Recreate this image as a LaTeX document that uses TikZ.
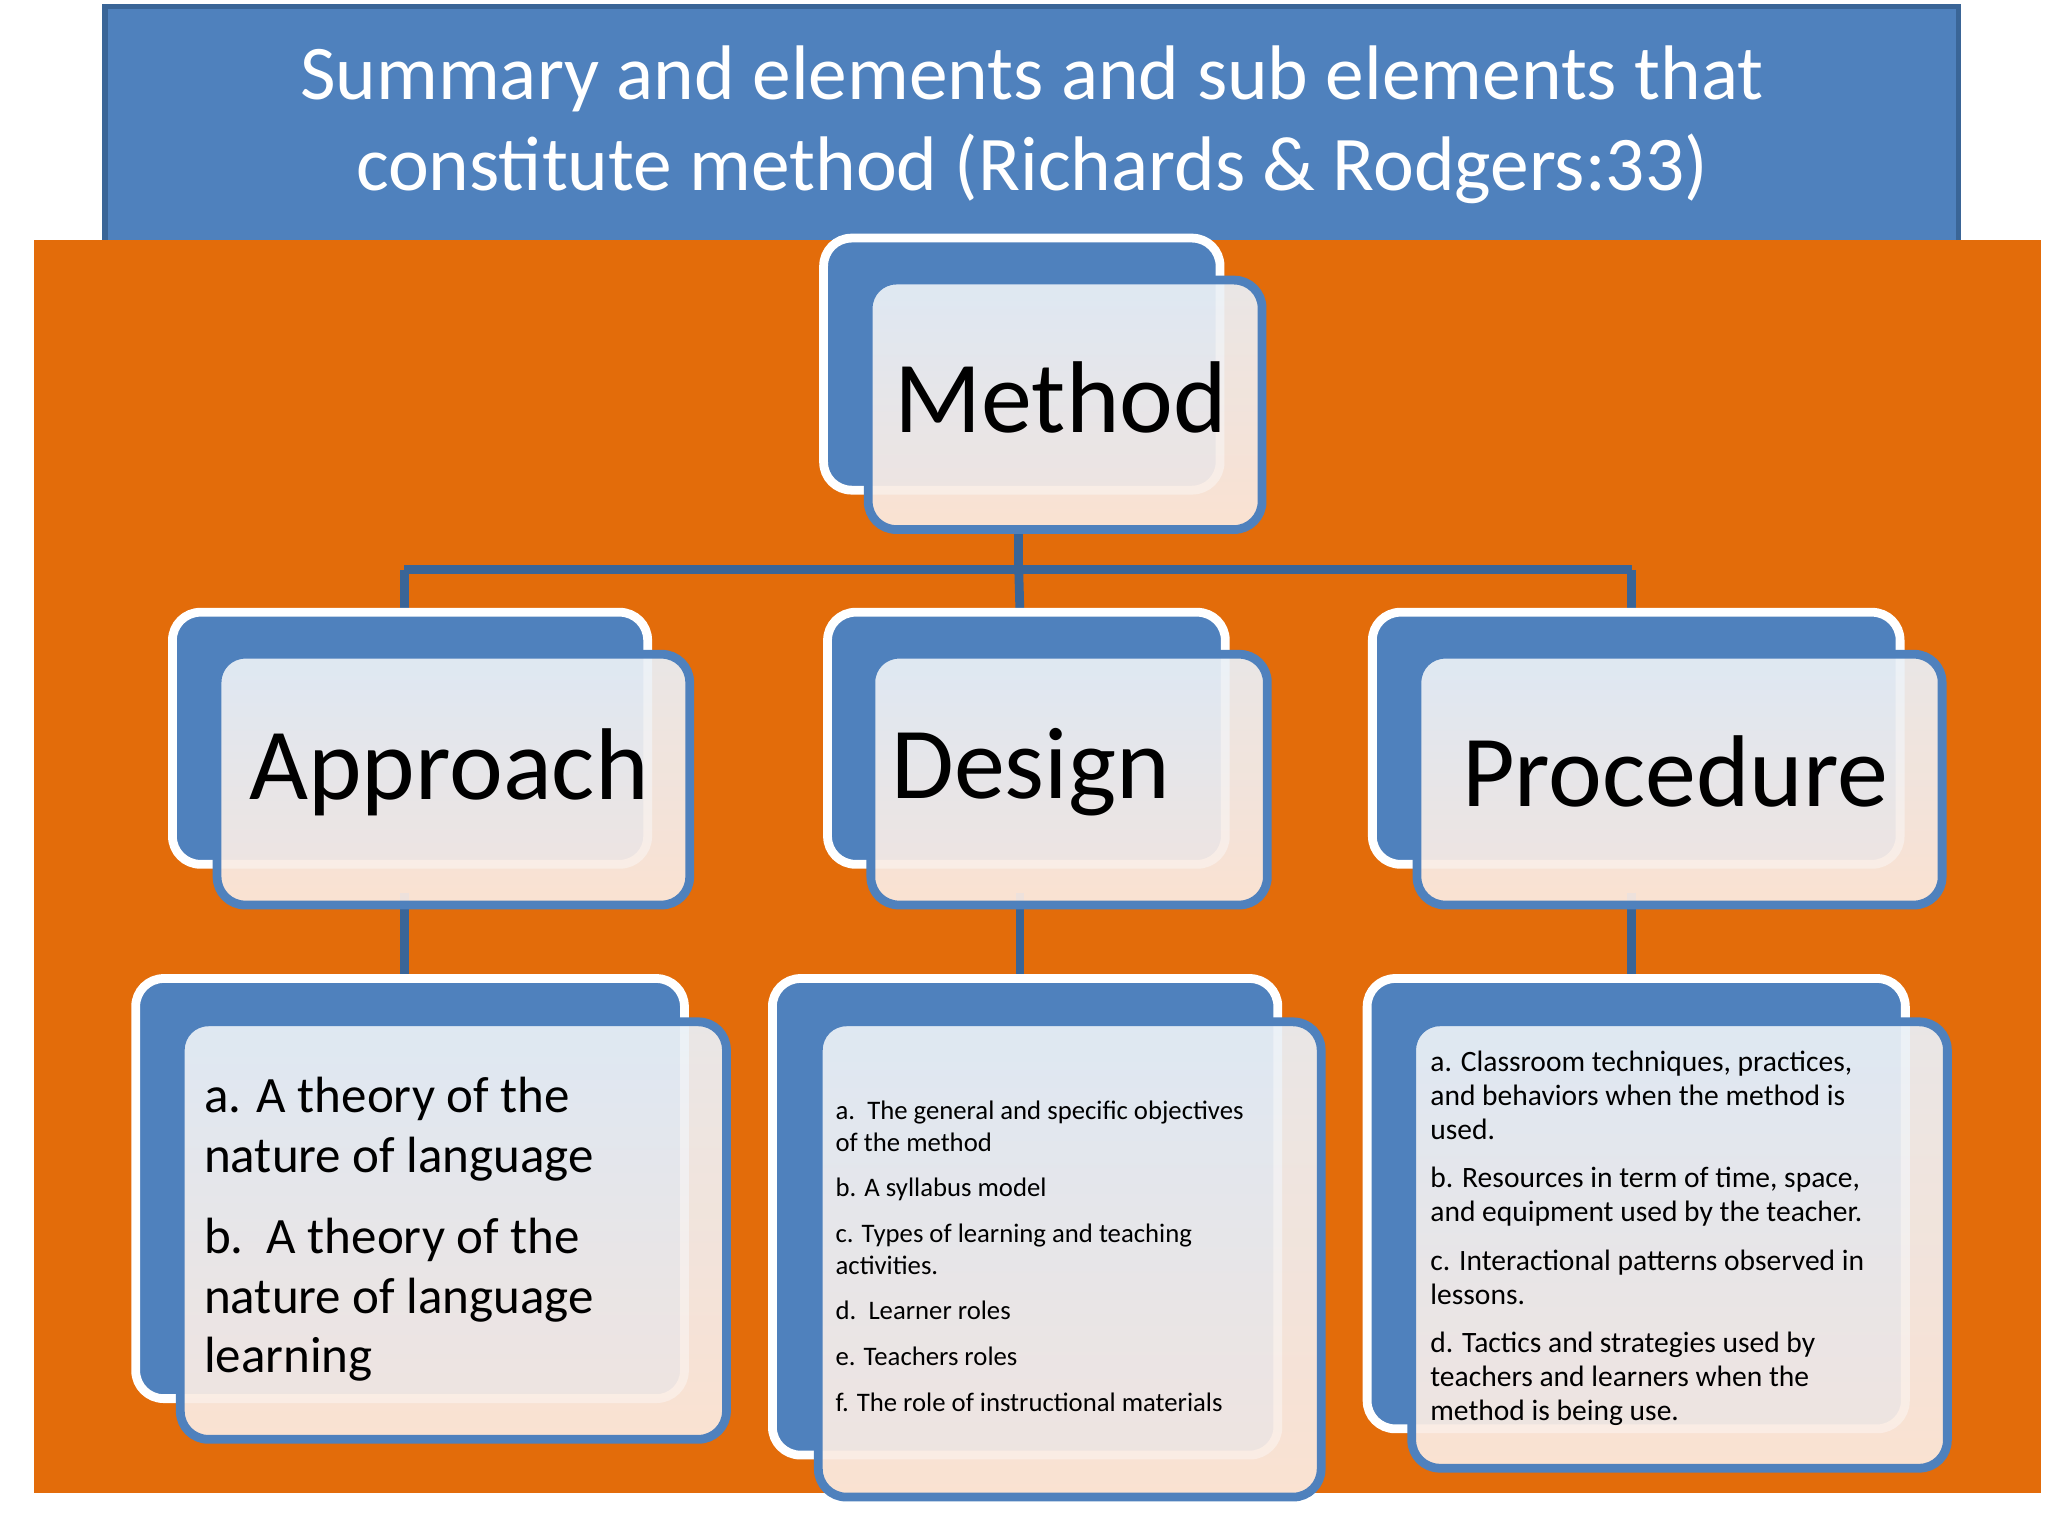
\documentclass[tikz,border=0pt]{standalone}
\usepackage{fontspec}
\setmainfont{Carlito}
\usepackage{tikz}
\usetikzlibrary{positioning}
\newcommand{\pu}{0.01313cm}
\definecolor{hdrblue}{HTML}{4F81BD}
\definecolor{hdredge}{HTML}{3A6597}
\definecolor{bgorange}{HTML}{E36C0A}
\definecolor{boxtop}{HTML}{EAF0F7}
\definecolor{boxbot}{HTML}{FCEBE1}
\tikzset{
  back/.style={draw=white, line width=2.5pt, fill=hdrblue, rounded corners=0.28cm, anchor=north west},
  front/.style={draw=hdrblue, line width=2.5pt, top color=boxtop, bottom color=boxbot, fill opacity=0.93, text opacity=1, rounded corners=0.28cm, anchor=north west},
  link/.style={draw=hdredge, line width=2.5pt},
  item/.style={anchor=north west, align=left, inner sep=0pt}
}
\begin{document}
\begin{tikzpicture}[x=\pu, y=-\pu]
\useasboundingbox (0,0) rectangle (1560,1170);
\fill[white] (0,0) rectangle (1560,1170);
% header and background
\fill[bgorange] (26,183) rectangle (1555,1137);
\node[draw=hdredge, line width=1.5pt, fill=hdrblue, anchor=north west, minimum width=1412*\pu, minimum height=180*\pu, text=white, align=center, font=\fontsize{22}{26}\selectfont] (title) at (78,3) {Summary and elements and sub elements that\\constitute method (Richards \& Rodgers:33)};
\fill[bgorange] (26,183) rectangle (1555,190);
% connectors
\coordinate (j) at (776,434);
\coordinate (ja) at (308,434);
\coordinate (jp) at (1243,434);
\draw[link] (776,400) -- (j);
\draw[link] (ja) -- (jp);
\draw[link] (ja) -- (308,470);
\draw[link] (j) -- (777,470);
\draw[link] (jp) -- (1243,470);
\draw[link] (308,680) -- (308,748);
\draw[link] (777,680) -- (777,748);
\draw[link] (1243,680) -- (1243,748);
% method
\node[back, minimum width=302*\pu, minimum height=192*\pu] (mb) at (624,178) {};
\node[front, minimum width=300*\pu, minimum height=190*\pu] (mf) at (658,210) {};
\node[font=\fontsize{29}{32}\selectfont] (mt) at (808,303) {Method};
% approach / design / procedure
\node[back, minimum width=362*\pu, minimum height=192*\pu] (ab) at (128,463) {};
\node[front, minimum width=360*\pu, minimum height=191*\pu] (af) at (162,495) {};
\node[font=\fontsize{29}{32}\selectfont] (at) at (342,588) {Approach};
\node[back, minimum width=303*\pu, minimum height=192*\pu] (db) at (627,463) {};
\node[front, minimum width=302*\pu, minimum height=191*\pu] (df) at (660,495) {};
\node[font=\fontsize{29}{32}\selectfont] (dt) at (785,588) {Design};
\node[back, minimum width=402*\pu, minimum height=192*\pu] (pb) at (1042,463) {};
\node[front, minimum width=400*\pu, minimum height=191*\pu] (pf) at (1076,495) {};
\node[font=\fontsize{29}{32}\selectfont] (pt) at (1276,588) {Procedure};
% sub elements
\node[back, minimum width=418*\pu, minimum height=320*\pu] (sab) at (100,742) {};
\node[front, minimum width=416*\pu, minimum height=318*\pu] (saf) at (134,775) {};
\node[item, font=\fontsize{14.5}{17}\selectfont] (sat) at (155,820) {a. A theory of the\\nature of language\\[6pt]b.\ \ A theory of the\\nature of language\\learning};
\node[back, minimum width=385*\pu, minimum height=363*\pu] (sdb) at (585,742) {};
\node[front, minimum width=383*\pu, minimum height=362*\pu] (sdf) at (620,775) {};
\node[item, font=\fontsize{7.6}{9}\selectfont] (sdt) at (636,838) {a.\ \ The general and specific objectives\\of the method\\[4pt]b. A syllabus model\\[4pt]c. Types of learning and teaching\\activities.\\[4pt]d.\ \ Learner roles\\[4pt]e. Teachers roles\\[4pt]f. The role of instructional materials};
\node[back, minimum width=410*\pu, minimum height=343*\pu] (spb) at (1038,742) {};
\node[front, minimum width=408*\pu, minimum height=340*\pu] (spf) at (1072,775) {};
\node[item, font=\fontsize{8.4}{9.7}\selectfont] (spt) at (1089,800) {a. Classroom techniques, practices,\\and behaviors when the method is\\used.\\[4pt]b. Resources in term of time, space,\\and equipment used by the teacher.\\[4pt]c. Interactional patterns observed in\\lessons.\\[4pt]d. Tactics and strategies used by\\teachers and learners when the\\method is being use.};
\end{tikzpicture}
\end{document}
